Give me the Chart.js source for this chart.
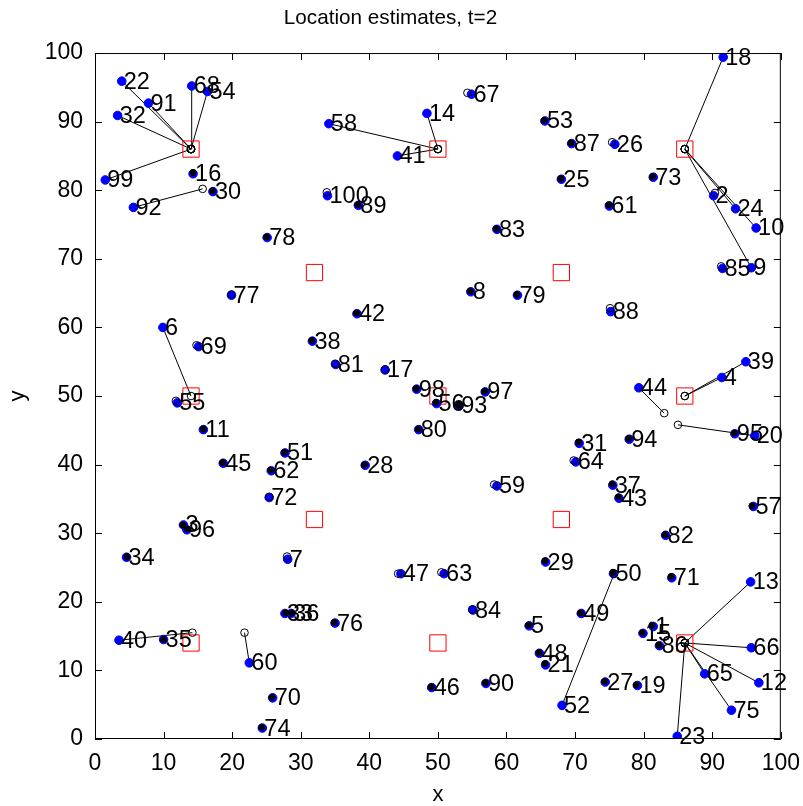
<!DOCTYPE html>
<html>
<head>
<meta charset="utf-8">
<title>Location estimates</title>
<script src="https://cdn.jsdelivr.net/npm/chart.js@4.4.1/dist/chart.umd.min.js"></script>
<style>
	body { margin: 0; background: #fff; }
	canvas { display: block; }
</style>
</head>
<body>
<canvas id="chartjs_location" width="803" height="806"></canvas>
<script>
// true node positions, node n is at index n-1
const nodeX = [
	81.4, 90.2, 12.9, 91.4, 63.3, 9.9, 28.1, 54.8, 95.7, 96.4,
	15.8, 96.8, 95.6, 48.4, 79.9, 14.3, 42.3, 91.6, 79.1, 96.2,
	65.7, 3.9, 84.9, 93.4, 68.0, 75.8, 74.4, 39.4, 65.7, 17.2,
	70.6, 3.3, 27.7, 4.6, 10.0, 28.6, 75.5, 31.7, 94.9, 3.5,
	44.1, 38.2, 76.4, 79.3, 18.7, 49.1, 44.6, 64.8, 70.9, 75.6,
	27.7, 68.1, 65.6, 16.4, 12.0, 49.8, 96.0, 34.1, 58.6, 22.5,
	75.0, 25.7, 50.9, 70.1, 88.9, 95.7, 54.9, 14.1, 15.1, 25.9,
	84.1, 25.4, 81.4, 24.4, 92.8, 35.0, 19.9, 25.1, 61.6, 47.2,
	35.1, 83.2, 58.6, 55.1, 91.5, 82.3, 69.5, 75.2, 38.4, 57.0,
	7.8, 5.6, 53.1, 77.9, 93.3, 13.4, 56.9, 46.9, 1.5, 33.9
];
const nodeY = [
	16.4, 79.2, 31.2, 52.7, 16.5, 60.0, 26.2, 65.2, 68.7, 74.5,
	45.1, 8.2, 22.9, 91.2, 15.4, 82.4, 53.8, 99.4, 7.8, 44.2,
	10.8, 95.9, 0.4, 77.3, 81.6, 86.7, 8.3, 39.9, 25.8, 79.8,
	43.1, 90.9, 18.3, 26.5, 14.5, 18.3, 37.0, 58.0, 55.0, 14.4,
	85.0, 62.0, 35.1, 51.2, 40.2, 7.5, 24.1, 12.5, 18.3, 24.1,
	41.7, 4.9, 90.1, 94.4, 49.0, 48.9, 33.9, 89.7, 36.9, 11.1,
	77.7, 39.1, 24.1, 40.4, 9.5, 13.3, 94.0, 95.2, 57.2, 6.0,
	23.5, 35.2, 81.9, 1.6, 4.2, 16.9, 64.7, 73.1, 64.7, 45.1,
	54.6, 29.7, 74.3, 18.8, 68.6, 13.6, 86.8, 62.3, 77.8, 8.1,
	92.7, 77.5, 48.6, 43.7, 44.5, 30.5, 50.6, 51.0, 81.5, 79.2
];

// estimated positions at t=2
const estX = [
	81.2, 90.4, 12.8, 86, 63.2, 14, 28.0, 54.7, 86, 86,
	15.8, 86, 86, 50, 79.8, 14.3, 42.3, 86, 78.9, 85.0,
	65.6, 14, 86, 86, 67.9, 75.4, 74.3, 39.3, 65.6, 17.1,
	70.5, 14, 27.8, 4.7, 10.0, 28.7, 75.4, 31.6, 86, 14.2,
	50, 38.1, 76.3, 83.0, 18.6, 49.0, 44.2, 64.7, 70.8, 75.5,
	27.6, 75.7, 65.5, 14, 11.8, 49.7, 95.8, 50, 58.2, 21.8,
	74.9, 25.6, 50.5, 69.8, 86, 86, 54.3, 14, 14.8, 25.8,
	84.0, 25.4, 81.3, 24.3, 86, 34.9, 19.9, 25.0, 61.5, 47.1,
	35.0, 83.1, 58.5, 55.0, 91.3, 82.2, 69.4, 75.1, 38.3, 56.9,
	14, 15.7, 53.0, 77.8, 93.2, 13.5, 56.8, 46.8, 14, 33.8
];
const estY = [
	16.6, 79.6, 31.2, 50, 16.6, 50, 26.6, 65.3, 86, 86,
	45.2, 14, 14, 86, 15.5, 82.6, 53.9, 86, 7.9, 45.8,
	11.0, 86, 14, 86, 81.7, 87.0, 8.4, 40.0, 26.0, 79.9,
	43.3, 86, 18.4, 26.6, 14.5, 18.4, 37.2, 58.1, 50, 15.5,
	86, 62.1, 35.3, 47.5, 40.3, 7.6, 24.1, 12.6, 18.4, 24.3,
	41.8, 24.1, 90.2, 86, 49.3, 49.1, 34.0, 86, 37.1, 15.5,
	77.9, 39.2, 24.3, 40.6, 14, 14, 94.2, 86, 57.4, 6.1,
	23.7, 35.3, 82.0, 1.7, 14, 17.0, 64.8, 73.2, 64.8, 45.2,
	54.7, 29.8, 74.4, 18.9, 68.9, 13.7, 86.9, 62.8, 77.9, 8.2,
	86, 80.2, 48.7, 43.8, 44.6, 30.6, 50.7, 51.1, 86, 79.7
];

// nodes whose estimate is drawn as an open circle
const openNodes = [2, 4, 6, 7, 9, 10, 12, 13, 14, 17, 18, 20, 22, 23, 24, 26, 32, 39, 40, 41,
	44, 47, 52, 54, 55, 58, 59, 60, 63, 64, 65, 66, 67, 68, 69, 72, 75, 77, 81, 84,
	85, 88, 91, 92, 99, 100];

// anchors
const anchorX = [14, 50, 86, 32, 68, 14, 50, 86, 32, 68, 14, 50, 86];
const anchorY = [86, 86, 86, 68, 68, 50, 50, 50, 32, 32, 14, 14, 14];

const FONT = '"Liberation Sans", Arial, sans-serif';

// box, inward ticks and node numbers
const frame = {
	id: 'frame',
	afterDatasetsDraw(chart) {
		const { ctx, chartArea: a, scales: { x, y } } = chart;
		ctx.save();
		ctx.strokeStyle = '#000';
		ctx.lineWidth = 1;
		ctx.strokeRect(a.left + 0.5, a.top + 0.5, a.right - a.left - 1, a.bottom - a.top - 1);
		ctx.beginPath();
		x.ticks.forEach((t) => {
			const p = Math.round(x.getPixelForValue(t.value)) + 0.5;
			ctx.moveTo(p, a.bottom); ctx.lineTo(p, a.bottom - 7);
			ctx.moveTo(p, a.top); ctx.lineTo(p, a.top + 7);
		});
		y.ticks.forEach((t) => {
			const p = Math.round(y.getPixelForValue(t.value)) + 0.5;
			ctx.moveTo(a.left, p); ctx.lineTo(a.left + 7, p);
			ctx.moveTo(a.right, p); ctx.lineTo(a.right - 7, p);
		});
		ctx.stroke();

		ctx.font = '23.5px ' + FONT;
		ctx.fillStyle = '#000';
		ctx.textAlign = 'left';
		ctx.textBaseline = 'middle';
		nodeX.forEach((v, i) => {
			ctx.fillText(String(i + 1), x.getPixelForValue(v) + 2, y.getPixelForValue(nodeY[i]) + 1);
		});
		ctx.restore();
	}
};

document.addEventListener("DOMContentLoaded", function () {
	const pts = (xs, ys) => xs.map((v, i) => ({ x: v, y: ys[i] }));

	// estimate -> true position, one segment per node
	const links = nodeX.map((v, i) => ({
		showLine: true,
		data: [{ x: estX[i], y: estY[i] }, { x: v, y: nodeY[i] }],
		borderColor: '#000',
		borderWidth: 1,
		pointRadius: 0,
		order: 4
	}));

	const openIdx = openNodes.map((n) => n - 1);
	const dotIdx = nodeX.map((v, i) => i).filter((i) => !openNodes.includes(i + 1));

	new Chart(document.getElementById("chartjs_location"), {
		type: 'scatter',
		data: {
			datasets: [
				{
					label: 'estimate (open)',
					data: openIdx.map((i) => ({ x: estX[i], y: estY[i] })),
					pointRadius: 3.8,
					borderWidth: 1,
					borderColor: '#000',
					backgroundColor: 'rgba(0,0,0,0)',
					order: 0
				},
				{
					label: 'estimate',
					data: dotIdx.map((i) => ({ x: estX[i], y: estY[i] })),
					pointRadius: 3,
					borderWidth: 1,
					borderColor: '#000',
					backgroundColor: '#000',
					order: 1
				},
				{
					label: 'true',
					data: pts(nodeX, nodeY),
					pointRadius: 4.3,
					borderWidth: 1,
					borderColor: '#0000ff',
					backgroundColor: '#0000ff',
					order: 2
				},
				{
					label: 'anchor',
					data: pts(anchorX, anchorY),
					pointStyle: 'rect',
					pointRadius: 11.5,
					borderWidth: 1,
					borderColor: '#ff0000',
					backgroundColor: 'rgba(0,0,0,0)',
					order: 3
				},
				...links
			]
		},
		options: {
			responsive: false,
			animation: false,
			events: [],
			layout: { padding: { left: 0, right: 22, top: 0, bottom: 0 } },
			plugins: {
				legend: { display: false },
				tooltip: { enabled: false },
				title: {
					display: true,
					text: 'Location estimates, t=2',
					color: '#000',
					font: { family: FONT, size: 20.7, weight: 'normal' },
					padding: { top: 6, bottom: 22.2 }
				}
			},
			scales: {
				x: {
					type: 'linear',
					min: 0,
					max: 100,
					grid: { display: false },
					border: { display: false },
					ticks: {
						stepSize: 10,
						color: '#000',
						padding: 3,
						maxRotation: 0,
						autoSkip: false,
						font: { family: FONT, size: 23 }
					},
					title: {
						display: true,
						text: 'x',
						color: '#000',
						padding: { top: 0, bottom: -2 },
						font: { family: FONT, size: 22 }
					},
					afterFit: (scale) => { scale.height = 67; }
				},
				y: {
					type: 'linear',
					min: 0,
					max: 100,
					grid: { display: false },
					border: { display: false },
					ticks: {
						stepSize: 10,
						color: '#000',
						padding: 4,
						autoSkip: false,
						font: { family: FONT, size: 23 }
					},
					title: {
						display: true,
						text: 'y',
						color: '#000',
						padding: { top: 5, bottom: 0 },
						font: { family: FONT, size: 22 }
					},
					afterFit: (scale) => { scale.width = 95; }
				}
			}
		},
		plugins: [frame]
	});
});
</script>
</body>
</html>
